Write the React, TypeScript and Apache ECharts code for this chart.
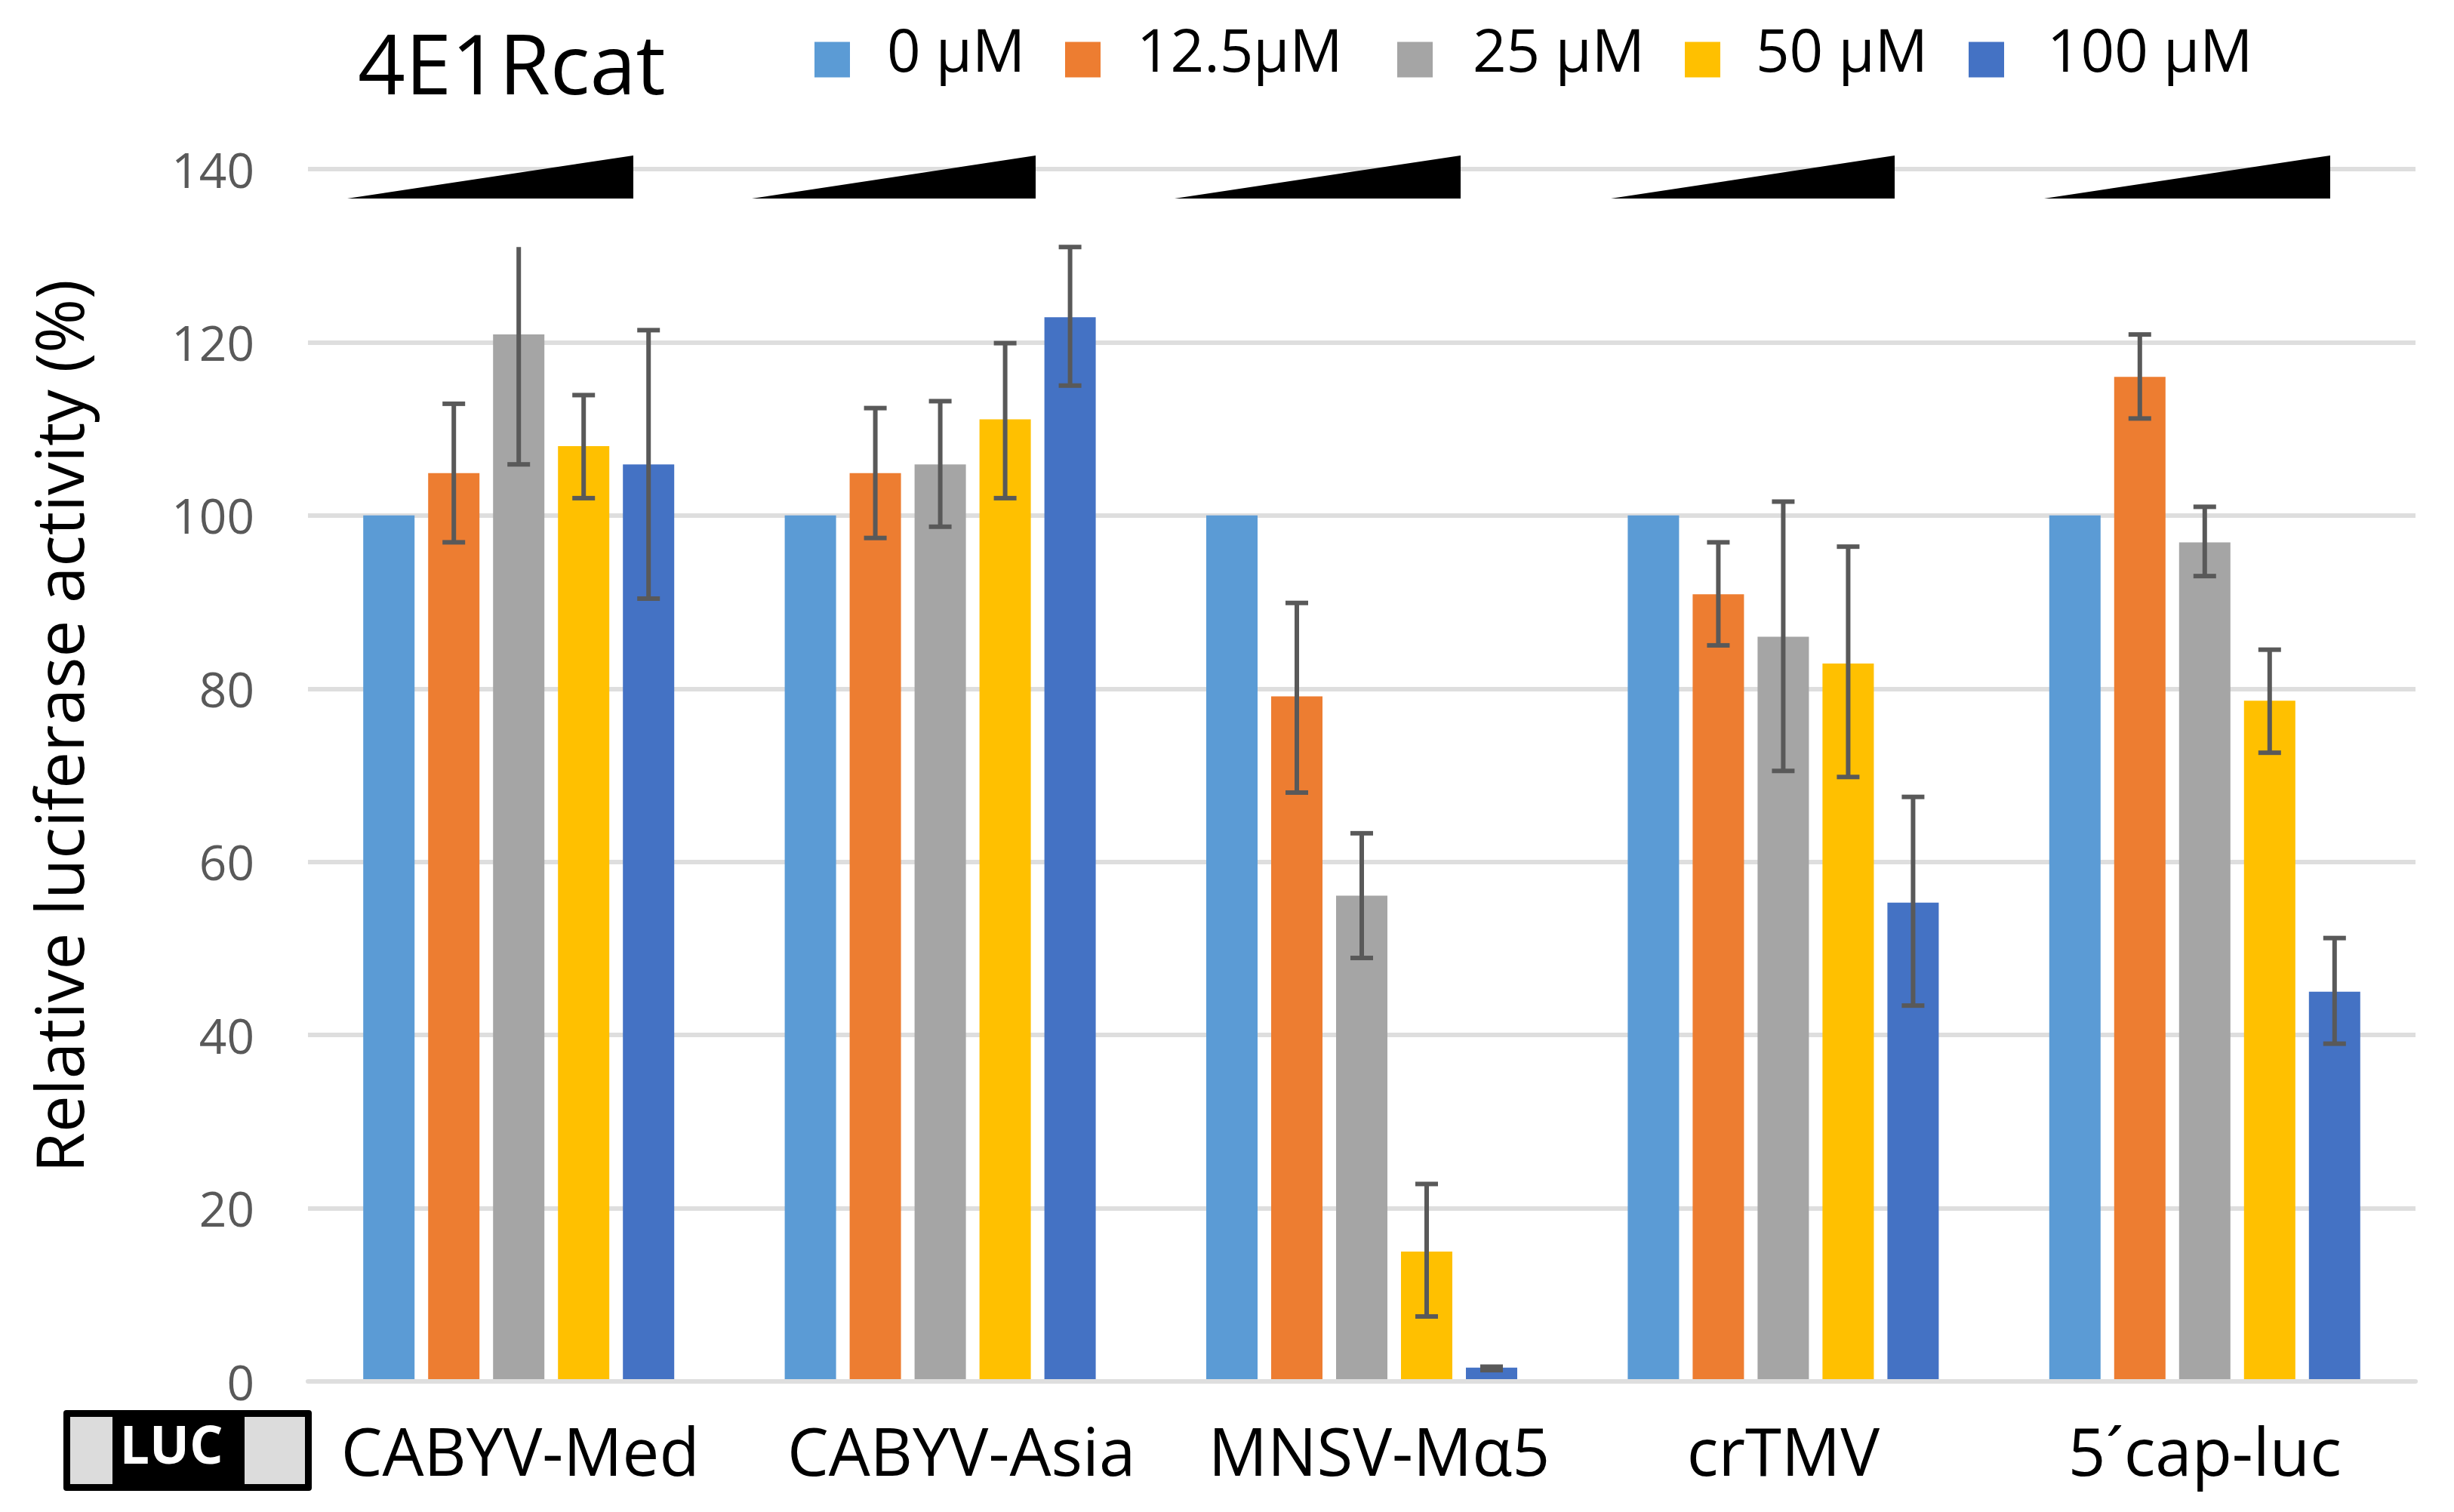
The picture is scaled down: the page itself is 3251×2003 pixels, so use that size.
// App.tsx
// Relative luciferase activity under rising 4E1Rcat doses, grouped bars with error bars

import { useEffect, useRef } from "react";
import * as echarts from "echarts";

const FONT = "'Open Sans', 'Noto Sans', sans-serif";

const CONSTRUCTS = ["CABYV-Med", "CABYV-Asia", "MNSV-M\u03b15", "crTMV", "5\u00b4cap-luc"];
const DOSES = ["0 \u00b5M", "12.5\u00b5M", "25 \u00b5M", "50 \u00b5M", "100 \u00b5M"];
const COLORS = ["#5B9BD5", "#ED7D31", "#A5A5A5", "#FFC000", "#4472C4"];

// bar heights, one list per dose, one value per construct
const DOSE_0 = [100, 100, 100, 100, 100];
const DOSE_12 = [104.9, 104.9, 79.1, 90.9, 116];
const DOSE_25 = [120.9, 105.9, 56.1, 86, 96.9];
const DOSE_50 = [108, 111.1, 15, 82.9, 78.6];
const DOSE_100 = [105.9, 122.9, 1.6, 55.3, 45];
const VALUES = [DOSE_0, DOSE_12, DOSE_25, DOSE_50, DOSE_100];

// error bar ends, [low, high] per construct. The 0 uM bars have none
const ERR_12 = [[96.9, 112.9], [97.4, 112.4], [68, 89.9], [85, 96.9], [111.2, 120.9]];
const ERR_25 = [[105.9, 131], [98.7, 113.2], [48.9, 63.3], [70.5, 101.6], [93, 101]];
const ERR_50 = [[102, 113.9], [102, 119.9], [7.5, 22.8], [69.8, 96.4], [72.6, 84.5]];
const ERR_100 = [[90.4, 121.4], [115, 131], [1.3, 1.7], [43.4, 67.5], [39, 51.2]];
const ERRORS = [null, ERR_12, ERR_25, ERR_50, ERR_100];

const Y_TICK_STEP = 20;
const Y_MAX = 140;

// layout, in page pixels
const GRID = { left: 408, top: 224, width: 2792, height: 1606 };
const BAR_WIDTH = 68;
const BAR_STEP = 86;
const LEGEND_LEFT = [1079, 1411, 1851, 2232, 2608];
const LEGEND_TEXT_GAP = [44, 43, 48, 42, 52];
// the hand-placed labels in the figure sit off the group centre
const LABEL_PAD_LEFT = [4, 56, 46, 0, 0];
const WEDGES = [
  [460, 839],
  [996, 1372],
  [1556, 1935],
  [2134, 2510],
  [2708, 3087],
];

function errorBarItem(doseIndex: number) {
  const offset = (doseIndex - 2) * BAR_STEP;
  return (params: any, api: any) => {
    const cat = api.value(0);
    const x = api.coord([cat, 0])[0] + offset;
    const yLow = api.coord([cat, api.value(1)])[1];
    const yHigh = api.coord([cat, api.value(2)])[1];
    const style = { stroke: "#595959", lineWidth: 6 };
    const cap = (y: number) => ({
      type: "line",
      shape: { x1: x - 15, y1: y, x2: x + 15, y2: y },
      style,
    });
    const children: any[] = [
      { type: "line", shape: { x1: x, y1: yHigh, x2: x, y2: yLow }, style },
      cap(yLow),
    ];
    // top cap of CABYV-Med at 25 uM is cut off in the figure
    if (!(doseIndex === 2 && params.dataIndex === 0)) children.push(cap(yHigh));
    return { type: "group", children };
  };
}

export default function App() {
  const chartRef = useRef<HTMLDivElement>(null);

  useEffect(() => {
    if (!chartRef.current) return;
    const chart = echarts.init(chartRef.current, undefined, { renderer: "svg" });

    const barSeries = DOSES.map((name, i) => ({
      name,
      type: "bar",
      data: VALUES[i],
      barWidth: BAR_WIDTH,
      barGap: `${((BAR_STEP - BAR_WIDTH) / BAR_WIDTH) * 100}%`,
      itemStyle: { color: COLORS[i] },
    }));

    const errorSeries = ERRORS.flatMap((rows, i) =>
      rows
        ? [
            {
              name: `${DOSES[i]} error`,
              type: "custom",
              z: 6,
              data: rows.map(([low, high], cat) => [cat, low, high]),
              encode: { x: 0, y: [1, 2] },
              renderItem: errorBarItem(i),
            },
          ]
        : []
    );

    chart.setOption({
      animation: false,
      backgroundColor: "#fff",
      textStyle: { fontFamily: FONT },
      title: {
        text: "4E1Rcat",
        left: 474,
        top: 27,
        padding: 0,
        textStyle: { fontFamily: FONT, fontSize: 110, fontWeight: "normal", color: "#000" },
      },
      legend: DOSES.map((name, i) => ({
        data: [name],
        left: LEGEND_LEFT[i],
        top: 26,
        padding: 0,
        icon: "rect",
        itemWidth: 47,
        itemHeight: 47,
        selectedMode: false,
        // taller line box so the text rides above the swatch centre, as in the figure
        formatter: (text: string) => `{t|${text}}`,
        textStyle: {
          padding: [0, 0, 0, LEGEND_TEXT_GAP[i]],
          rich: {
            t: {
              fontFamily: FONT,
              fontSize: 78,
              color: "#000",
              lineHeight: 106,
              verticalAlign: "top",
            },
          },
        },
      })),
      grid: { ...GRID, containLabel: false },
      xAxis: {
        type: "category",
        data: CONSTRUCTS.map((value, i) => ({
          value,
          textStyle: { padding: [0, 0, 0, LABEL_PAD_LEFT[i]] },
        })),
        z: 4,
        axisLine: { lineStyle: { color: "#DEDEDE", width: 6 } },
        axisTick: { show: false },
        axisLabel: {
          interval: 0,
          margin: 47,
          fontFamily: FONT,
          fontSize: 87,
          color: "#000",
        },
      },
      yAxis: {
        type: "value",
        min: 0,
        max: Y_MAX,
        interval: Y_TICK_STEP,
        name: "Relative luciferase activity (%)",
        nameLocation: "middle",
        nameGap: 288,
        nameTextStyle: {
          fontFamily: FONT,
          fontSize: 87,
          color: "#000",
          padding: [0, 0, 0, 130],
        },
        axisLine: { show: false },
        axisTick: { show: false },
        axisLabel: {
          margin: 71,
          padding: [0, 0, 6, 0],
          fontFamily: FONT,
          fontSize: 64,
          color: "#595959",
        },
        splitLine: { lineStyle: { color: "#DEDEDE", width: 6 } },
      },
      series: [...barSeries, ...errorSeries],
      graphic: [
        ...WEDGES.map(([x1, x2]) => ({
          type: "polygon",
          z: 20,
          shape: { points: [[x1, 263], [x2, 263], [x2, 206]] },
          style: { fill: "#000" },
        })),
        // LUC reporter cartoon left of the first label
        {
          type: "rect",
          z: 20,
          shape: { x: 84, y: 1868, width: 329, height: 107, r: 4 },
          style: { fill: "#000" },
        },
        {
          type: "rect",
          z: 21,
          shape: { x: 93, y: 1877, width: 56, height: 89 },
          style: { fill: "#DCDCDC" },
        },
        {
          type: "rect",
          z: 21,
          shape: { x: 324, y: 1877, width: 80, height: 89 },
          style: { fill: "#DCDCDC" },
        },
        {
          type: "text",
          z: 21,
          x: 227,
          y: 1912,
          style: {
            text: "LUC",
            fill: "#fff",
            font: `bold 70px ${FONT}`,
            align: "center",
            verticalAlign: "middle",
          },
        },
      ],
    });

    return () => chart.dispose();
  }, []);

  return (
    <div
      ref={chartRef}
      style={{ position: "absolute", left: 0, top: 0, width: 3251, height: 2003 }}
    />
  );
}
